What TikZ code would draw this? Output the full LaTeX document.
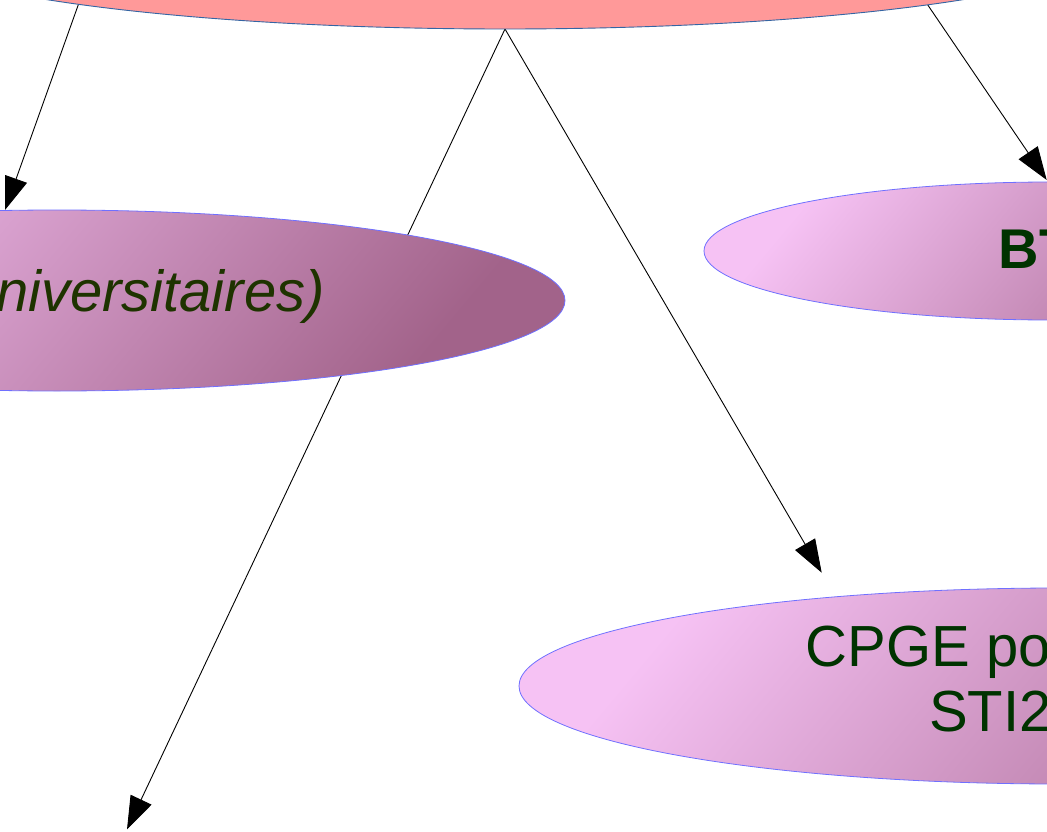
\documentclass[tikz,border=0pt]{standalone}
\usepackage{fontspec}
\setmainfont{Liberation Sans}
\usetikzlibrary{shapes.geometric,arrows.meta}
\definecolor{topfill}{HTML}{FF9999}
\definecolor{topedge}{HTML}{3465A4}
\definecolor{pinkedge}{HTML}{7070FF}
\definecolor{pinklight}{HTML}{F6C2F4}
\definecolor{pinkdark}{HTML}{A2638A}
\definecolor{txtgreen}{HTML}{003300}
\definecolor{txtolive}{HTML}{1E3300}
\tikzset{
  topbox/.style={shape=ellipse, draw=topedge, line width=0.9pt, fill=topfill, inner sep=0pt},
  pinkbox/.style={shape=ellipse, draw=pinkedge, line width=0.8pt, left color=pinklight, right color=pinkdark, shading angle=50, inner sep=0pt},
  conn/.style={draw=black, line width=0.9pt, -{Triangle[length=33pt,width=23pt]}},
  label/.style={inner sep=0pt, font=\fontsize{58}{65}\selectfont, text=txtgreen}
}
\begin{document}
\begin{tikzpicture}[x=1pt,y=-1pt]
\useasboundingbox (0,0) rectangle (1047,832);
\clip (0,0) rectangle (1047,832);
\fill[white] (0,0) rectangle (1047,832);
% anchor coordinates for connectors
\coordinate (top-l) at (95,-42);
\coordinate (top-r) at (904,-30);
\coordinate (top-b) at (505,29);
\coordinate (univ-in) at (5,210);
\coordinate (bts-in) at (1046.7,180);
\coordinate (cpge-in) at (821.7,572.7);
\coordinate (next-in) at (127,829.5);
% connectors (beneath the ellipses)
\draw[conn] (top-l) -- (univ-in);
\draw[conn] (top-b) -- (next-in);
\draw[conn] (top-b) -- (cpge-in);
\draw[conn] (top-r) -- (bts-in);
% ellipses
\node[topbox, minimum width=1240pt, minimum height=180pt] (top) at (505,-61) {};
\node[pinkbox, minimum width=1016pt, minimum height=181pt] (univ) at (57,300.5) {};
\node[pinkbox, minimum width=694pt, minimum height=138pt] (bts) at (1051,251) {};
\node[pinkbox, minimum width=1082pt, minimum height=196pt] (cpge) at (1060,686) {};
% texts
\node[label, text=txtolive, anchor=base east] (univtxt) at (325,311) {\itshape niversitaires)};
\node[label, anchor=base west, font=\fontsize{56}{65}\selectfont\bfseries] (btstxt) at (998.7,268) {BT};
\node[label, anchor=base west] (cpgetxt1) at (805.5,666.7) {CPGE po};
\node[label, anchor=base west] (cpgetxt2) at (929,731.7) {STI2};
\end{tikzpicture}
\end{document}
